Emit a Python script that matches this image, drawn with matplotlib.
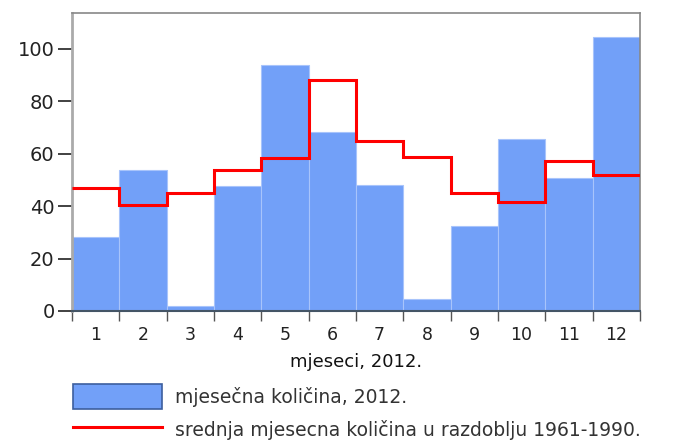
import numpy as np
import matplotlib.pyplot as plt
from matplotlib.patches import Patch
from matplotlib.lines import Line2D

months = [str(m) for m in range(1, 13)]
kolicina_2012 = [28.4, 53.9, 1.9, 47.8, 93.7, 68.3, 48.1, 4.5, 32.5, 65.7, 50.6, 104.6]
prosjek_1961_1990 = [46.9, 40.5, 45.0, 53.6, 58.3, 88.0, 65.0, 58.6, 45.0, 41.5, 57.3, 51.7]

bar_color = '#72a0f8'
edges = np.arange(len(months) + 1)

fig = plt.figure(figsize=(6.81, 4.43), dpi=100)
ax = fig.add_axes([0.1057, 0.298, 0.834, 0.673])

ax.bar(edges[:-1], kolicina_2012, width=1.0, align='edge',
       color=bar_color, edgecolor='#a8c4fb', linewidth=0.8, zorder=2)
ax.stairs(prosjek_1961_1990, edges, color='#ff0000', linewidth=2.2,
          baseline=None, zorder=3)

ax.set_xlim(0, 12)
ax.set_ylim(0, 113.7)
ax.set_yticks([0, 20, 40, 60, 80, 100])
ax.tick_params(axis='y', labelsize=14, length=10, width=1.3, color='#333333',
               labelcolor='#222222', pad=2.5)

# x: tick marks at bar boundaries, labels centred
ax.set_xticks(edges)
ax.set_xticklabels([''] * len(edges))
ax.set_xticks(edges[:-1] + 0.5, minor=True)
ax.set_xticklabels(months, minor=True)
ax.tick_params(axis='x', which='major', length=7, width=1.0, color='#555555')
ax.tick_params(axis='x', which='minor', length=0, labelsize=12.5, pad=11,
               labelcolor='#222222')
ax.set_xlabel('mjeseci, 2012.', fontsize=13, labelpad=6, color='#111111')

for side in ['top', 'right']:
    ax.spines[side].set_color('#888888')
    ax.spines[side].set_linewidth(1.2)
ax.spines['left'].set_color('#aaaaaa')
ax.spines['left'].set_linewidth(2.0)
ax.spines['bottom'].set_color('#445566')
ax.spines['bottom'].set_linewidth(1.5)

handles = [
    Patch(facecolor=bar_color, edgecolor='#3d5f9e', linewidth=1.2),
    Line2D([0], [0], color='#ff0000', linewidth=2.2),
]
labels = ['mjesečna količina, 2012.',
          'srednja mjesecna količina u razdoblju 1961-1990.']
fig.legend(handles, labels, loc='upper left', bbox_to_anchor=(0.107, 0.134),
           frameon=False, fontsize=13.5, handlelength=4.75, handleheight=1.72,
           handletextpad=0.7, labelspacing=0.42, labelcolor='#333333',
           borderpad=0, borderaxespad=0)

fig.savefig('out.png', dpi=100)
